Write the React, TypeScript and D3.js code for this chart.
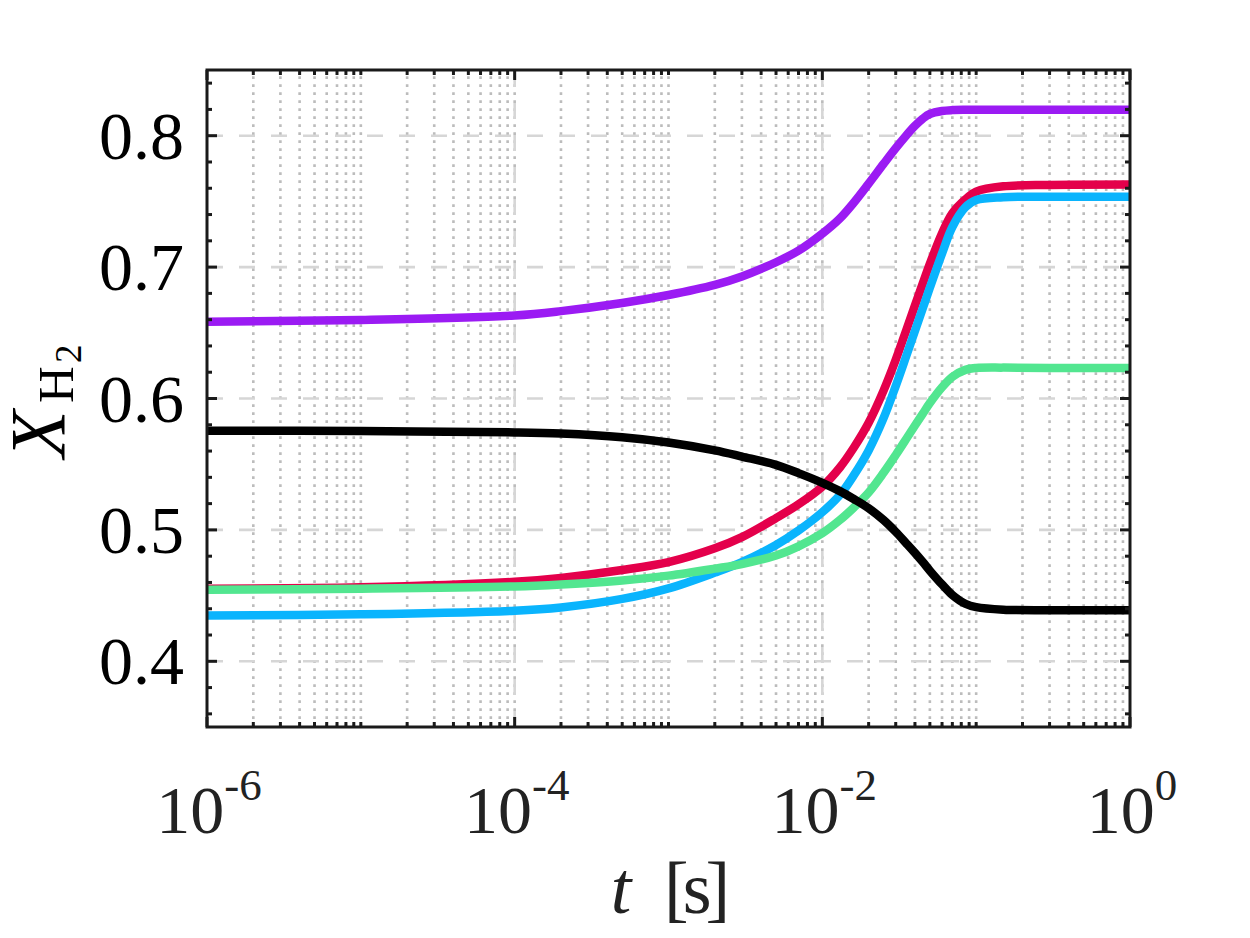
import React from "react";
import * as d3 from "d3";

// time grid [s]
const time = [1e-6, 1e-5, 1e-4, 2e-4, 5e-4, 1e-3, 2e-3, 3e-3, 5e-3, 7e-3, 1e-2, 1.3e-2, 1.6e-2, 2e-2, 2.5e-2, 3e-2, 3.5e-2, 4e-2, 4.5e-2, 5e-2, 6e-2, 7e-2, 8.5e-2, 1e-1, 1.5e-1, 3e-1, 1];

const purpleSeries = [0.6585, 0.6598, 0.6632, 0.6665, 0.6727, 0.6788, 0.6865, 0.6929, 0.7037, 0.7125, 0.7255, 0.737, 0.749, 0.7635, 0.7785, 0.7905, 0.800, 0.8075, 0.813, 0.8165, 0.8188, 0.8195, 0.8197, 0.8197, 0.8197, 0.8197, 0.8197];
const redSeries = [0.4553, 0.4563, 0.4605, 0.4635, 0.4695, 0.4755, 0.486, 0.4945, 0.509, 0.5195, 0.533, 0.5475, 0.5625, 0.5815, 0.606, 0.6295, 0.6515, 0.6708, 0.6877, 0.7025, 0.7258, 0.741, 0.7515, 0.7575, 0.7615, 0.7625, 0.7628];
const blueSeries = [0.4348, 0.4358, 0.4385, 0.441, 0.4475, 0.4555, 0.4675, 0.4755, 0.4885, 0.4995, 0.5135, 0.5265, 0.5415, 0.5605, 0.585, 0.6095, 0.6318, 0.6515, 0.6688, 0.6843, 0.7103, 0.7305, 0.7455, 0.751, 0.7532, 0.7535, 0.7535];
const greenSeries = [0.4545, 0.4553, 0.457, 0.4585, 0.4615, 0.4652, 0.4705, 0.474, 0.4805, 0.4875, 0.4975, 0.5075, 0.517, 0.5285, 0.5435, 0.557, 0.569, 0.5795, 0.5885, 0.5965, 0.6085, 0.6165, 0.6218, 0.6232, 0.6235, 0.6233, 0.6232];
const blackSeries = [0.5755, 0.5752, 0.5742, 0.5733, 0.5705, 0.5665, 0.5605, 0.5558, 0.5495, 0.5432, 0.5358, 0.5295, 0.5235, 0.5165, 0.5075, 0.4985, 0.490, 0.4825, 0.4755, 0.469, 0.4585, 0.4505, 0.4438, 0.4412, 0.4393, 0.4389, 0.4388];

const seriesList = [
  { name: "purple", values: purpleSeries, color: "#9b1bf3" },
  { name: "red", values: redSeries, color: "#e4004b" },
  { name: "blue", values: blueSeries, color: "#0ab4fd" },
  { name: "green", values: greenSeries, color: "#52e690" },
  { name: "black", values: blackSeries, color: "#000000" },
];

const yMajorTicks = [0.4, 0.5, 0.6, 0.7, 0.8];
const yTickLabels = ["0.4", "0.5", "0.6", "0.7", "0.8"];
const xMajorExps = [-6, -4, -2, 0];

const FONT = "'Liberation Serif', 'Times New Roman', serif";

export default function App() {
  const W = 1250, H = 938;
  const L = 207, R = 1130, T = 70, B = 727;
  const x = d3.scaleLog().domain([1e-6, 1]).range([L, R]);
  const y = d3.scaleLinear().domain([0.35, 0.85]).range([B, T]);

  const line = d3
    .line<number>()
    .x((_, i) => x(time[i]))
    .y((d) => y(d))
    .curve(d3.curveCatmullRom.alpha(0.5));

  const minorX: number[] = [];
  for (let e = -6; e < 0; e++) {
    for (let k = 1; k < 10; k++) {
      const v = k * Math.pow(10, e);
      if (v > 1.0001e-6 && v < 0.9999) minorX.push(v);
    }
  }
  const majorXVals = xMajorExps.map((e) => Math.pow(10, e));
  const isMajorX = (v: number) => majorXVals.some((m) => Math.abs(Math.log10(m) - Math.log10(v)) < 1e-6);
  const minorXTicks = minorX.filter((v) => !isMajorX(v));
  const minorY = d3.range(0.36, 0.845, 0.02).filter((v) => !yMajorTicks.some((m) => Math.abs(m - v) < 1e-6));

  const axisColor = "#1a1a1a";
  const majorLen = 10, minorLen = 5;

  return (
    <div style={{ position: "absolute", left: 0, top: 0 }}>
      <svg width={W} height={H} viewBox={`0 0 ${W} ${H}`} style={{ display: "block", background: "#fff" }}>
        <defs>
          <clipPath id="plotclip">
            <rect x={L} y={T} width={R - L} height={B - T} />
          </clipPath>
        </defs>
        <rect x={0} y={0} width={W} height={H} fill="#fff" />

        {/* minor vertical grid (dotted) */}
        <g stroke="#bcbcbc" strokeWidth={2.6} strokeDasharray="2.7 5.3">
          {minorX.map((v, i) => (
            <line key={i} x1={x(v)} x2={x(v)} y1={B} y2={T} />
          ))}
        </g>
        {/* major grid (dashed) */}
        <g stroke="#d6d6d6" strokeWidth={2.6} strokeDasharray="16 16">
          {yMajorTicks.map((v, i) => (
            <line key={"gy" + i} x1={L} x2={R} y1={y(v)} y2={y(v)} />
          ))}
          {majorXVals.filter((v) => v > 1e-6 && v < 1).map((v, i) => (
            <line key={"gx" + i} x1={x(v)} x2={x(v)} y1={B} y2={T} />
          ))}
        </g>

        {/* series */}
        <g clipPath="url(#plotclip)" fill="none" strokeWidth={8.5} strokeLinejoin="round" strokeLinecap="butt">
          {seriesList.map((s) => (
            <path key={s.name} d={line(s.values) || ""} stroke={s.color} />
          ))}
        </g>

        {/* ticks */}
        <g stroke={axisColor} strokeWidth={3}>
          {majorXVals.map((v, i) => (
            <g key={"mx" + i}>
              <line x1={x(v)} x2={x(v)} y1={B} y2={B - majorLen} />
              <line x1={x(v)} x2={x(v)} y1={T} y2={T + majorLen} />
            </g>
          ))}
          {minorXTicks.map((v, i) => (
            <g key={"nx" + i}>
              <line x1={x(v)} x2={x(v)} y1={B} y2={B - minorLen} />
              <line x1={x(v)} x2={x(v)} y1={T} y2={T + minorLen} />
            </g>
          ))}
          {yMajorTicks.map((v, i) => (
            <g key={"my" + i}>
              <line x1={L} x2={L + majorLen} y1={y(v)} y2={y(v)} />
              <line x1={R} x2={R - majorLen} y1={y(v)} y2={y(v)} />
            </g>
          ))}
          {minorY.map((v, i) => (
            <g key={"ny" + i}>
              <line x1={L} x2={L + minorLen} y1={y(v)} y2={y(v)} />
              <line x1={R} x2={R - minorLen} y1={y(v)} y2={y(v)} />
            </g>
          ))}
        </g>

        {/* axes box */}
        <rect x={L} y={T} width={R - L} height={B - T} fill="none" stroke={axisColor} strokeWidth={3} />

        {/* y tick labels */}
        <g fontFamily={FONT} fontSize={68} fill="#000" textAnchor="end">
          {yMajorTicks.map((v, i) => (
            <text key={"yl" + i} x={184} y={y(v) + 23}>
              {yTickLabels[i]}
            </text>
          ))}
        </g>

        {/* x tick labels */}
        <g fontFamily={FONT} fontSize={68} fill="#222" textAnchor="middle">
          {xMajorExps.map((e, i) => (
            <text key={"xl" + i} x={x(Math.pow(10, e)) + 2} y={833}>
              <tspan>10</tspan>
              <tspan fontSize={45} dy={-33}>{String(e)}</tspan>
            </text>
          ))}
        </g>

        {/* x label */}
        <g fontFamily={FONT} fontSize={74} fill="#222">
          <text x={621} y={913} fontStyle="italic" textAnchor="middle">t</text>
          <text x={664} y={913} letterSpacing={-6}>[s]</text>
        </g>

        {/* y label */}
        <g fontFamily={FONT} fill="#000" transform="translate(64,403) rotate(-90)">
          <text x={-55} y={0} fontSize={78} fontStyle="italic">X</text>
          <text x={0} y={9} fontSize={51}>H</text>
          <text x={40} y={17} fontSize={37}>2</text>
        </g>
      </svg>
    </div>
  );
}
